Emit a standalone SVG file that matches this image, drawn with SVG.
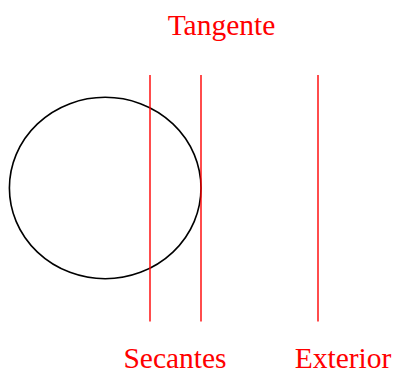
<svg xmlns="http://www.w3.org/2000/svg" width="395" height="374" viewBox="0 0 395 374">
<style>
.line{stroke:#ff0000;stroke-width:1.4;fill:none}
.lbl{font-family:"Liberation Serif","Times New Roman",serif;font-size:29.5px;fill:#ff0000;text-anchor:middle}
</style>
<rect width="395" height="374" fill="#ffffff"/>
<g id="circle">
<ellipse cx="105.2" cy="188" rx="95.8" ry="90.7" fill="none" stroke="#000000" stroke-width="1.6"/>
</g>
<g id="connectors">
<line class="line" x1="150" y1="75" x2="150" y2="321.5"/>
<line class="line" x1="201" y1="75" x2="201" y2="321.5"/>
<line class="line" x1="318" y1="75" x2="318" y2="321.5"/>
</g>
<g id="label-tangente"><text class="lbl" x="221.5" y="35">Tangente</text></g>
<g id="label-secantes"><text class="lbl" x="175" y="368">Secantes</text></g>
<g id="label-exterior"><text class="lbl" x="343" y="368">Exterior</text></g>
</svg>
